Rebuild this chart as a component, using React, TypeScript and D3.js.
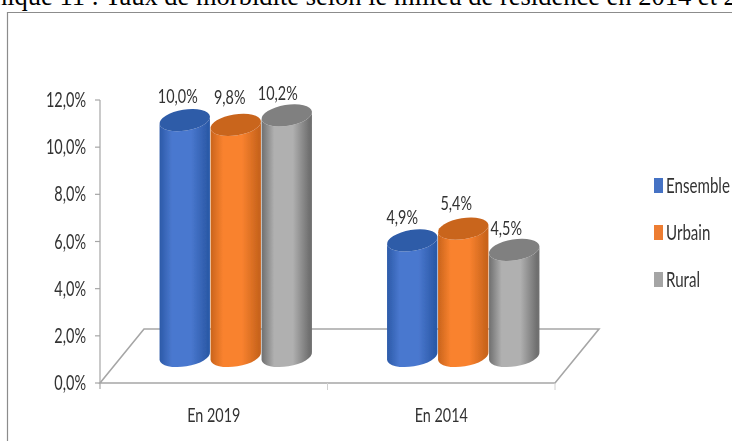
import React from "react";
import * as d3 from "d3";

const categories = ["En 2019", "En 2014"];
const seriesNames = ["Ensemble", "Urbain", "Rural"];
const ensemble = [10.0, 4.9];
const urbain = [9.8, 5.4];
const rural = [10.2, 4.5];
const yTicks = [0, 2, 4, 6, 8, 10, 12];
const titleText = "Graphique 11 : Taux de morbidité selon le milieu de résidence en 2014 et 2019";

const W = 732, H = 441;
const narrow = "Lato, 'Open Sans', sans-serif";
const axisColor = "#a6a6a6";
const palette = [
  { dark: "#2c5aa8", mid: "#4a78cf", top: "#2f5ca8", solid: "#4472c4" },
  { dark: "#c9641c", mid: "#f9822f", top: "#c9651f", solid: "#ed7d31" },
  { dark: "#6f6f6f", mid: "#b0b0b0", top: "#808080", solid: "#a5a5a5" },
];
const fmt = (v: number) => v.toFixed(1).replace(".", ",") + "%";

function NText({ x, y, anchor = "start", size = 21, sx = 0.69, children }: any) {
  return (
    <text transform={`translate(${x} ${y}) scale(${sx} 1)`} textAnchor={anchor}
      fontFamily={narrow} fontSize={size} fill="#333">{children}</text>
  );
}

export default function App() {
  const y = d3.scaleLinear().domain([0, 12]).range([383, 100]);
  const depthX = 44, depthY = 54;
  const x0 = d3.scaleBand().domain(categories).range([100, 555]);
  const x1 = d3.scaleBand().domain(seriesNames).range([0, 153]);
  const values = [ensemble, urbain, rural];
  const rx = 25.5, ry = 10.5, rot = -9;
  const c = Math.cos((rot * Math.PI) / 180), s = Math.sin((rot * Math.PI) / 180);
  const base = y(0) - 27;

  const labelNudge = [[-7, -6, -9], [-10, -7, -8]];
  const labelRise = [[24, 28, 22], [23, 26, 22]];

  const bars = categories.flatMap((cat, ci) =>
    seriesNames.map((name, si) => {
      const v = values[si][ci];
      const cx = x0(cat)! + (x0.bandwidth() - 153) / 2 + depthX / 2 + x1(name)! + x1.bandwidth() / 2;
      const topY = y(v) - 27;
      return { cat, ci, name, si, v, cx, topY };
    })
  );

  return (
    <svg width={W} height={H} viewBox={`0 0 ${W} ${H}`}
      style={{ position: "absolute", left: 0, top: 0, background: "#fff" }}>
      <defs>
        {palette.map((p, i) => (
          <linearGradient key={i} id={`g${i}`} x1="0" x2="1" y1="0" y2="0">
            <stop offset="0" stopColor={p.dark} />
            <stop offset="0.25" stopColor={p.mid} />
            <stop offset="0.62" stopColor={p.mid} />
            <stop offset="0.95" stopColor={p.dark} />
            <stop offset="1" stopColor={p.dark} />
          </linearGradient>
        ))}
        <filter id="soft"><feGaussianBlur stdDeviation="0.5" /></filter>
      </defs>

      <text x={-59} y={5} fontFamily="'Liberation Serif', serif" fontSize={26.5} fill="#000">{titleText}</text>

      <path d={`M7.5 441V12.5H${W}`} fill="none" stroke="#8c8c8c" strokeWidth={1.2} />

      <g filter="url(#soft)">
        {/* floor */}
        <path d={`M${x0.range()[0]} ${y(0)}L${x0.range()[0] + depthX} ${y(0) - depthY}H${x0.range()[1] + depthX}L${x0.range()[1]} ${y(0)}Z`}
          fill="none" stroke={axisColor} strokeWidth={1.6} />
        {/* value axis */}
        <line x1={100} x2={100} y1={y(12)} y2={y(0) + 6} stroke={axisColor} strokeWidth={1.2} />
        {yTicks.map(t => (
          <g key={t}>
            <line x1={95} x2={100} y1={y(t)} y2={y(t)} stroke={axisColor} strokeWidth={1.2} />
            <NText x={86} y={y(t) + 7} anchor="end">{fmt(t)}</NText>
          </g>
        ))}
        {[x0.range()[0] + x0.bandwidth(), x0.range()[1]].map(tx => (
          <line key={tx} x1={tx} x2={tx} y1={y(0)} y2={y(0) + 7} stroke="#d0d0d0" strokeWidth={1} />
        ))}
        {categories.map(cat => (
          <NText key={cat} x={x0(cat)! + x0.bandwidth() / 2} y={y(0) + 39} anchor="middle" size={20} sx={0.72}>{cat}</NText>
        ))}

        {/* cylinders */}
        {bars.map(b => {
          const lx = b.cx - rx * c, rxp = b.cx + rx * c;
          const dy = rx * s;
          const d = `M${lx} ${b.topY - dy}L${lx} ${base - dy}A${rx} ${ry} ${rot} 0 0 ${rxp} ${base + dy}L${rxp} ${b.topY + dy}A${rx} ${ry} ${rot} 0 1 ${lx} ${b.topY - dy}Z`;
          return (
            <g key={b.cat + b.name}>
              <path d={d} fill={`url(#g${b.si})`} />
              <ellipse cx={b.cx} cy={b.topY} rx={rx} ry={ry} fill={palette[b.si].top}
                transform={`rotate(${rot} ${b.cx} ${b.topY})`} />
            </g>
          );
        })}

        {/* data labels */}
        {bars.map(b => (
          <NText key={b.cat + b.name} x={b.cx + labelNudge[b.ci][b.si]} y={b.topY - labelRise[b.ci][b.si] + 7}
            anchor="middle" size={20} sx={0.72}>{fmt(b.v)}</NText>
        ))}

        {/* legend */}
        {seriesNames.map((name, i) => (
          <g key={name}>
            <rect x={654} y={178 + i * 47} width={9} height={15} fill={palette[i].solid} />
            <NText x={666} y={193 + i * 47} size={21} sx={0.72}>{name}</NText>
          </g>
        ))}
      </g>
    </svg>
  );
}
